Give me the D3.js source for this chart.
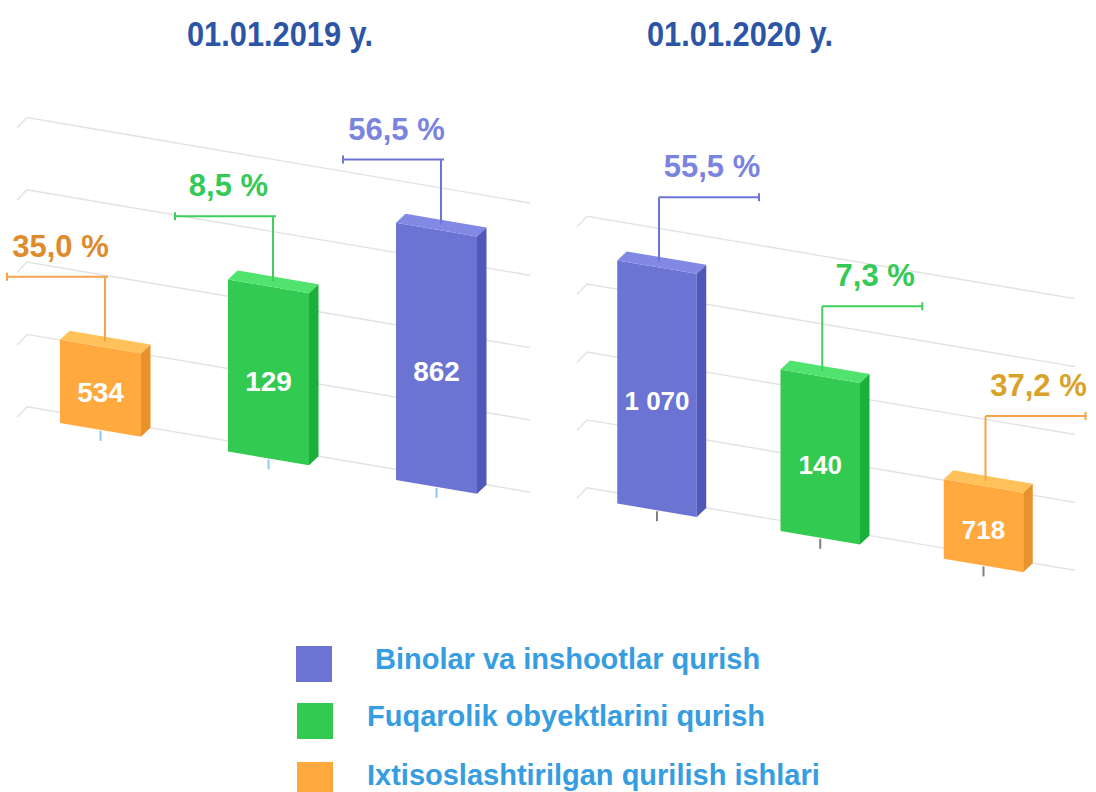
<!DOCTYPE html>
<html>
<head>
<meta charset="utf-8">
<script src="https://cdn.jsdelivr.net/npm/d3@7"></script>
<style>
  body { margin: 0; background: #fff; }
  svg { display: block; font-family: "Liberation Sans", Arial, sans-serif; }
</style>
</head>
<body>
<svg width="1096" height="792"></svg>
<script>
// chart data
var categories = ['Binolar va inshootlar qurish', 'Fuqarolik obyektlarini qurish', 'Ixtisoslashtirilgan qurilish ishlari'];
var panelTitles = ['01.01.2019 y.', '01.01.2020 y.'];

// bars left to right in each panel, given as category index
var order2019 = [2, 1, 0];
var order2020 = [0, 1, 2];
var values2019 = [534, 129, 862];
var values2020 = [1070, 140, 718];
var shares2019 = [35.0, 8.5, 56.5];
var shares2020 = [55.5, 7.3, 37.2];
// bar heights as drawn, in gridline steps (the picture does not scale them to the values)
var heights2019 = [1.15, 2.38, 3.56];
var heights2020 = [3.58, 2.38, 1.17];
var gridSteps = [0, 1, 2, 3, 4];

var frontColor = ['#6b73d3', '#33ca51', '#ffa93f'];
var topColor = ['#8189e5', '#50e36d', '#ffc25a'];
var sideColor = ['#5059b9', '#1bb03b', '#e8922b'];
var textColor = ['#7a84df', '#35c957', '#de8b2e'];
var leaderColor = ['#6d76d6', '#40cf5f', '#f7a34b'];

var locale = d3.formatLocale({decimal: ',', thousands: '\u00a0', grouping: [3], currency: ['', '']});
var fmtValue = locale.format(',d');
var fmtShare = function (d) { return locale.format('.1f')(d) + ' %'; };

var svg = d3.select('svg');

var panels = [
    {title: panelTitles[0], titleX: 280, order: order2019, values: values2019, shares: shares2019, heights: heights2019,
     gx0: 27, gx1: 530, gy0: 406.7, unit: 72.3, slope: 0.17, centers: [100.5, 436.5], barW: 81,
     tickColor: '#8fc8f2', labelSize: 28, dir: -1, vOff: 4.5, orangeText: '#de8b2e'},
    {title: panelTitles[1], titleX: 740, order: order2020, values: values2020, shares: shares2020, heights: heights2020,
     gx0: 587, gx1: 1075, gy0: 487.8, unit: 67.9, slope: 0.169, centers: [657, 983.5], barW: 79.5,
     tickColor: '#808080', labelSize: 26, dir: 1, vOff: 2, orangeText: '#d9a22b'}
];

var depth = [9.5, 9];
var line = d3.line();

panels.forEach(function (p) {
    var g = svg.append('g');
    var x = d3.scalePoint().domain([0, 1, 2]).range(p.centers);
    var y = d3.scaleLinear().domain([0, 4]).range([0, 4 * p.unit]);
    // back wall baseline and front baseline
    var gb = function (px) { return p.gy0 + (px - p.gx0) * p.slope; };
    var gf = function (px) { return gb(px + depth[0]) + depth[1]; };

    svg.append('text')
        .attr('x', p.titleX)
        .attr('y', 45.5)
        .attr('text-anchor', 'middle')
        .attr('textLength', 186)
        .attr('lengthAdjust', 'spacingAndGlyphs')
        .style('font-family', '"Liberation Sans Narrow", "Arial Narrow", "Liberation Sans", sans-serif')
        .style('font-size', '35px')
        .style('font-weight', 'bold')
        .attr('fill', '#2d55a6')
        .text(p.title);

    g.selectAll('.grid')
        .data(gridSteps)
        .enter()
        .append('path')
        .attr('class', 'grid')
        .attr('d', function (s) {
            var off = y(s);
            return line([[p.gx0 - 10, gb(p.gx0) - off + 10.5], [p.gx0, gb(p.gx0) - off], [p.gx1, gb(p.gx1) - off]]);
        })
        .attr('fill', 'none')
        .attr('stroke', '#e2e2e2')
        .attr('stroke-width', 1.4);

    var bars = p.order.map(function (cat, i) {
        var cx = x(i);
        return {cat: cat, cx: cx, xl: cx - p.barW / 2, xr: cx + p.barW / 2, h: y(p.heights[i]),
                value: p.values[i], share: p.shares[i]};
    });

    g.selectAll('.tick')
        .data(bars)
        .enter()
        .append('line')
        .attr('x1', function (d) { return d.cx; })
        .attr('x2', function (d) { return d.cx; })
        .attr('y1', function (d) { return gf(d.cx) + 1; })
        .attr('y2', function (d) { return gf(d.cx) + 11; })
        .attr('stroke', p.tickColor)
        .attr('stroke-width', 2);

    var bar = g.selectAll('.bar')
        .data(bars)
        .enter()
        .append('g')
        .attr('class', 'bar');

    bar.append('path')
        .attr('d', function (d) {
            return line([[d.xl, gf(d.xl)], [d.xr, gf(d.xr)], [d.xr, gf(d.xr) - d.h], [d.xl, gf(d.xl) - d.h]]) + 'Z';
        })
        .attr('fill', function (d) { return frontColor[d.cat]; });

    bar.append('path')
        .attr('d', function (d) {
            return line([[d.xl, gf(d.xl) - d.h], [d.xr, gf(d.xr) - d.h],
                         [d.xr + depth[0], gf(d.xr) - d.h - depth[1]], [d.xl + depth[0], gf(d.xl) - d.h - depth[1]]]) + 'Z';
        })
        .attr('fill', function (d) { return topColor[d.cat]; });

    bar.append('path')
        .attr('d', function (d) {
            return line([[d.xr, gf(d.xr)], [d.xr + depth[0], gf(d.xr) - depth[1]],
                         [d.xr + depth[0], gf(d.xr) - d.h - depth[1]], [d.xr, gf(d.xr) - d.h]]) + 'Z';
        })
        .attr('fill', function (d) { return sideColor[d.cat]; });

    bar.append('text')
        .attr('x', function (d) { return d.cx; })
        .attr('y', function (d) { return gf(d.cx) - d.h * 0.45 + p.labelSize * 0.36; })
        .attr('text-anchor', 'middle')
        .attr('fill', '#fff')
        .style('font-size', p.labelSize + 'px')
        .style('font-weight', 'bold')
        .text(function (d) { return fmtValue(d.value); });

    // leader lines with share labels
    bars.forEach(function (d) {
        var vx = d.cx + p.vOff;
        var topY = gf(d.cx) - d.h;
        var hy = topY - 70;
        var x1 = p.dir < 0 ? vx - 98 : vx + 100;
        var x0 = p.dir < 0 ? vx + 3 : vx;
        var col = leaderColor[d.cat];

        g.append('path')
            .attr('d', line([[vx, topY - 5], [vx, hy]]) + line([[x0, hy], [x1, hy]]) + line([[x1, hy - 4], [x1, hy + 4]]))
            .attr('fill', 'none')
            .attr('stroke', col)
            .attr('stroke-width', 2);

        g.append('text')
            .attr('x', (x0 + x1) / 2 + 3)
            .attr('y', hy - 20)
            .attr('text-anchor', 'middle')
            .attr('fill', d.cat === 2 ? p.orangeText : textColor[d.cat])
            .style('font-size', '31px')
            .style('font-weight', 'bold')
            .text(fmtShare(d.share));
    });
});

// legend
var legendRowY = [646, 703, 762];
var legendTextX = [375, 367, 367];
var legend = svg.append('g');

legend.selectAll('rect')
    .data(categories)
    .enter()
    .append('rect')
    .attr('x', function (d, i) { return i === 0 ? 296 : 297; })
    .attr('y', function (d, i) { return legendRowY[i]; })
    .attr('width', 36)
    .attr('height', 36)
    .attr('fill', function (d, i) { return frontColor[i]; });

legend.selectAll('text')
    .data(categories)
    .enter()
    .append('text')
    .attr('x', function (d, i) { return legendTextX[i]; })
    .attr('y', function (d, i) { return legendRowY[i] + 23; })
    .attr('fill', '#379de1')
    .style('font-size', '29px')
    .style('font-weight', 'bold')
    .text(function (d) { return d; });
</script>
</body>
</html>
